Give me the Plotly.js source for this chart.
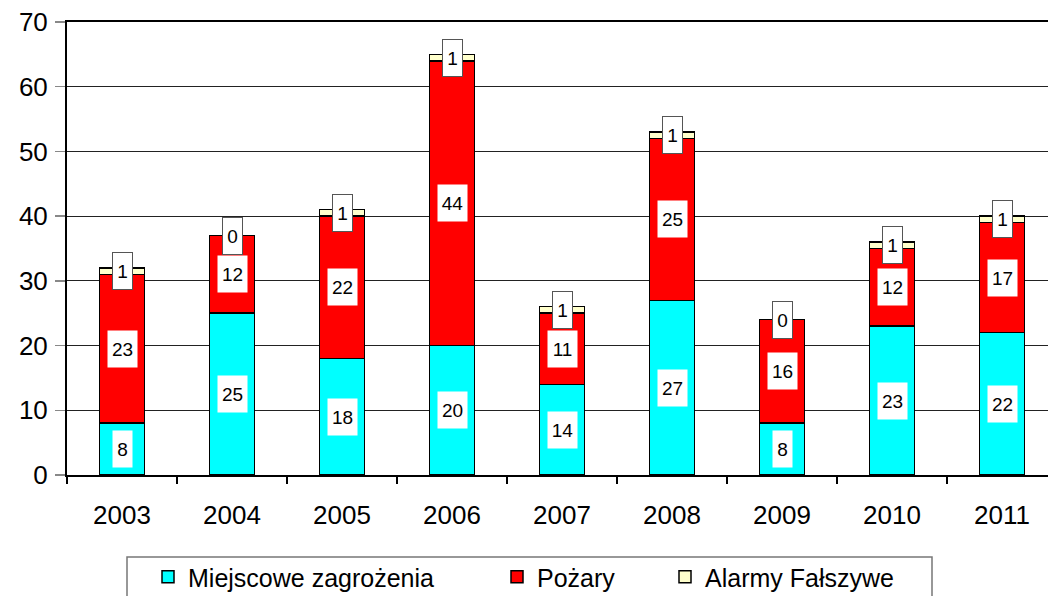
<!DOCTYPE html>
<html>
<head>
<meta charset="utf-8">
<script src="https://cdn.plot.ly/plotly-3.0.1.min.js"></script>
<style>html,body{margin:0;padding:0;background:#fff;}#chart{width:1048px;height:596px;}</style>
</head>
<body>
<div id="chart"></div>
<script>
var years = ['2003','2004','2005','2006','2007','2008','2009','2010','2011'];
var miejscowe = [8, 25, 18, 20, 14, 27, 8, 23, 22];
var pozary = [23, 12, 22, 44, 11, 25, 16, 12, 17];
var alarmy = [1, 0, 1, 1, 1, 1, 0, 1, 1];
var seriesNames = ['Miejscowe zagrożenia', 'Pożary', 'Alarmy Fałszywe'];

var FONT = 'Liberation Sans, Arial, sans-serif';
var barLine = {color: '#000', width: 1.5};
var W = 0.41;

var traces = [
  {type: 'bar', x: years, y: miejscowe, name: seriesNames[0], width: W, legend: 'legend',
   marker: {color: '#00FFFF', line: barLine}, hoverinfo: 'none'},
  {type: 'bar', x: years, y: pozary, name: seriesNames[1], width: W, legend: 'legend2',
   marker: {color: '#FF0000', line: barLine}, hoverinfo: 'none'},
  {type: 'bar', x: years, y: alarmy, name: seriesNames[2], width: W, legend: 'legend3',
   marker: {color: '#FFFFCC', line: barLine}, hoverinfo: 'none'}
];

var annotations = [];
years.forEach(function(yr, i) {
  var a = miejscowe[i], b = pozary[i], c = alarmy[i];
  var lab = [
    {v: a, y: a / 2, border: false},
    {v: b, y: a + b / 2, border: false},
    {v: c, y: a + b + c / 2, border: true}
  ];
  lab.forEach(function(l) {
    var s = String(l.v);
    annotations.push({
      x: i, y: l.y, xref: 'x', yref: 'y', text: s, showarrow: false,
      font: {family: FONT, size: 19, color: '#000'},
      bgcolor: '#fff',
      bordercolor: l.border ? '#555' : 'rgba(0,0,0,0)',
      borderwidth: 1,
      width: s.length > 1 ? 27 : 17, height: 34,
      borderpad: 1
    });
  });
});

function legendAt(px) {
  return {
    orientation: 'h', xref: 'container', yref: 'container',
    x: px / 1048, xanchor: 'left', y: 1 - 577 / 596, yanchor: 'middle',
    font: {family: FONT, size: 25, color: '#000'},
    bgcolor: 'rgba(0,0,0,0)', borderwidth: 0
  };
}

var layout = {
  width: 1048, height: 596,
  margin: {l: 67, r: 0, t: 22, b: 121},
  paper_bgcolor: '#fff', plot_bgcolor: '#fff',
  barmode: 'stack',
  font: {family: FONT, color: '#000'},
  showlegend: true,
  legend: legendAt(188 - 40),
  legend2: legendAt(535 - 38),
  legend3: legendAt(705 - 40),
  shapes: [{
    type: 'rect', xref: 'paper', yref: 'paper',
    x0: (127 - 67) / 981, x1: (932 - 67) / 981,
    y0: -(600 - 475) / 453, y1: -(557 - 475) / 453,
    line: {color: '#777', width: 1.5}, fillcolor: 'rgba(0,0,0,0)', layer: 'below'
  }],
  xaxis: {
    type: 'category', range: [-0.5, 8.418], fixedrange: true,
    showline: true, linecolor: '#000', linewidth: 2, mirror: true,
    ticks: 'outside', tickson: 'boundaries', ticklen: 7, tickcolor: '#000', tickwidth: 1.5,
    tickfont: {family: FONT, size: 26, color: '#000'},
    ticklabelstandoff: 16,
    showgrid: false, zeroline: false
  },
  yaxis: {
    range: [0, 70], dtick: 10, fixedrange: true,
    showline: true, linecolor: '#000', linewidth: 2,
    ticks: 'outside', ticklen: 10, tickcolor: '#888', tickwidth: 1.5,
    tickfont: {family: FONT, size: 26, color: '#000'},
    ticklabelstandoff: 2,
    showgrid: true, gridcolor: '#222', gridwidth: 1, zeroline: false
  },
  annotations: annotations
};

Plotly.newPlot('chart', traces, layout, {displayModeBar: false, staticPlot: true});
</script>
</body>
</html>
